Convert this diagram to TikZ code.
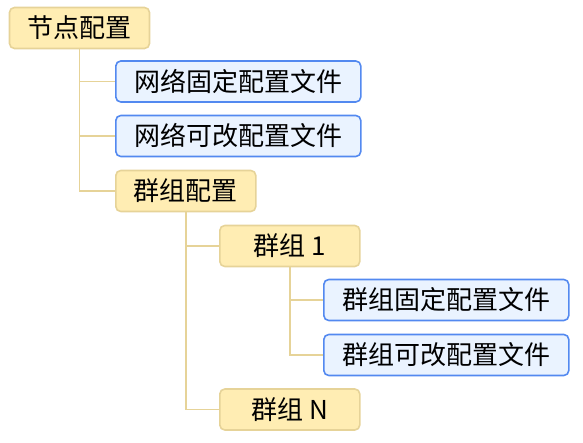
\documentclass[tikz,border=0pt]{standalone}
\usepackage{fontspec}
\setmainfont{Noto Sans CJK SC}
\usetikzlibrary{positioning}
\definecolor{yellownode}{HTML}{FFEDB3}
\definecolor{yellowline}{HTML}{E6D398}
\definecolor{bluenode}{HTML}{EAF3FF}
\definecolor{blueline}{HTML}{5389F0}
\tikzset{
      base/.style = {draw, line width=1.6pt, rounded corners=5pt,
                     minimum height=41bp, inner sep=0pt,
                     font=\fontsize{26bp}{31bp}\selectfont, align=center},
     group/.style = {base, draw=yellowline, fill=yellownode, minimum width=140bp},
   cfgfile/.style = {base, draw=blueline, fill=bluenode, minimum width=245bp},
      conn/.style = {draw=yellowline, line width=1.6pt},
}
\begin{document}
\begin{tikzpicture}[x=1bp,y=-1bp]
\useasboundingbox (0,0) rectangle (583,443);
% tree of nodes
\node[group] (root) at (79.5,28) {节点配置};
\node[cfgfile,anchor=west] (netfix) at (115,81.5) {网络固定配置文件};
\node[cfgfile,anchor=west] (netmod) at (115,136) {网络可改配置文件};
\node[group,anchor=west] (grp) at (115,191) {群组配置};
\node[group,anchor=west] (grp1) at (219,246) {群组 1};
\node[cfgfile,anchor=west] (grpfix) at (323,300) {群组固定配置文件};
\node[cfgfile,anchor=west] (grpmod) at (323,355) {群组可改配置文件};
\node[group,anchor=west] (grpN) at (219,409.5) {群组 N};
% connectors
\foreach \c in {netfix,netmod,grp} \draw[conn] (root.south) |- (\c.west);
\foreach \c in {grp1,grpN} \draw[conn] (grp.south) |- (\c.west);
\foreach \c in {grpfix,grpmod} \draw[conn] (grp1.south) |- (\c.west);
\end{tikzpicture}
\end{document}
